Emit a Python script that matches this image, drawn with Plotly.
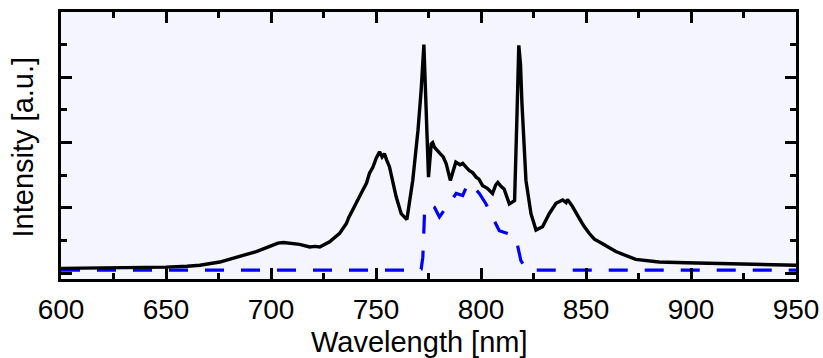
import plotly.graph_objects as go

# Emission spectrum (black) and filtered band (blue dashed), arbitrary units
wl_spectrum = [600, 620, 640, 650, 660, 666.1, 675.6, 685.1, 693, 699.4, 703.3, 706, 708.9,
               713.6, 718.4, 721, 723.2, 727.9, 732.7, 735.9, 737, 739, 741, 743.7, 745.5,
               746.9, 748.5, 750.1, 751.7, 752.9, 754, 755, 756.4, 759.6, 762, 764.7, 767.5,
               770, 771.5, 772.8, 773.5, 774.3, 775, 776.3, 777, 777.8, 779, 780, 782,
               783.4, 785.4, 786.5, 788, 790, 791.3, 793, 794.5, 796, 797.7, 799, 800.8,
               803, 805.5, 807, 808, 809.5, 811, 813.5, 816, 817.2, 818, 818.8, 819.5,
               821.4, 823.8, 826.2, 829.3, 832.5, 835.7, 838.9, 840.5, 841.2, 842.1,
               843.6, 846.8, 849, 851.5, 854, 857.9, 864.2, 873.7, 884.8, 897.5, 913.3,
               930, 950]
intensity_spectrum = [0.072, 0.075, 0.085, 0.092, 0.105, 0.12, 0.17, 0.25, 0.33, 0.41, 0.46,
                      0.47, 0.46, 0.44, 0.40, 0.41, 0.40, 0.48, 0.61, 0.76, 0.85, 0.99, 1.10,
                      1.27, 1.38, 1.53, 1.62, 1.76, 1.86, 1.78, 1.83, 1.74, 1.63, 1.17, 0.91,
                      0.82, 1.42, 2.19, 2.8, 3.50, 2.9, 2.1, 1.47, 1.98, 2.0, 1.93, 1.88, 1.85,
                      1.78, 1.68, 1.42, 1.55, 1.70, 1.66, 1.68, 1.62, 1.57, 1.54, 1.47, 1.44,
                      1.34, 1.30, 1.22, 1.35, 1.39, 1.33, 1.29, 1.06, 1.11, 2.5, 3.49, 3.2,
                      2.6, 1.42, 0.91, 0.66, 0.71, 0.91, 1.07, 1.12, 1.08, 1.13, 1.09, 1.02,
                      0.84, 0.72, 0.61, 0.52, 0.45, 0.33, 0.21, 0.17, 0.16, 0.15, 0.135, 0.12]

wl_filtered = [600, 770, 771.5, 772.3, 773.1, 775.5, 777.8, 780.2, 784.2, 788.2, 791.3,
               793.7, 796, 799.2, 802.4, 806.4, 808.7, 813.5, 816.7, 819, 821.4, 823, 950]
intensity_filtered = [0.045, 0.045, 0.06, 0.245, 0.91, 1.06, 1.01, 0.86, 1.04, 1.22, 1.19,
                      1.37, 1.34, 1.22, 1.06, 0.81, 0.65, 0.60, 0.53, 0.19, 0.07, 0.045, 0.045]

x_ticks = [600, 650, 700, 750, 800, 850, 900, 950]
y_ticks = [0, 1, 2, 3, 4]

FONT = "Liberation Sans, Arial, sans-serif"

fig = go.Figure()
fig.add_trace(go.Scatter(x=wl_filtered, y=intensity_filtered, mode="lines",
                         line=dict(color="#0000ff", width=3.2, dash="19px,17px"),
                         showlegend=False))
fig.add_trace(go.Scatter(x=wl_spectrum, y=intensity_spectrum, mode="lines",
                         line=dict(color="black", width=3.4),
                         showlegend=False))

axis_common = dict(showline=True, linecolor="black", linewidth=3, mirror="allticks",
                   ticks="inside", tickcolor="black", tickwidth=2.5, ticklen=11,
                   showgrid=False, zeroline=False, automargin=False)

fig.update_xaxes(range=[600, 950], tickvals=x_ticks, ticktext=[str(v) for v in x_ticks],
                 tickfont=dict(family=FONT, size=28, color="black"),
                 ticklabelstandoff=3,
                 minor=dict(dtick=25, tick0=600, ticks="inside", ticklen=6,
                            tickwidth=2.5, tickcolor="black", showgrid=False),
                 **axis_common)
fig.update_yaxes(range=[-0.09, 4.0], tickvals=y_ticks, showticklabels=False,
                 minor=dict(dtick=0.5, tick0=0, ticks="inside", ticklen=6,
                            tickwidth=2.5, tickcolor="black", showgrid=False),
                 **axis_common)

fig.add_annotation(text="Wavelength [nm]", xref="paper", yref="paper", x=0.488, y=-0.236,
                   xanchor="center", yanchor="middle", showarrow=False,
                   font=dict(family=FONT, size=29, color="black"))
fig.add_annotation(text="Intensity [a.u.]", xref="paper", yref="paper", x=-0.0516, y=0.493,
                   xanchor="center", yanchor="middle", showarrow=False, textangle=-90,
                   font=dict(family=FONT, size=29, color="black"))

fig.update_layout(width=823, height=358,
                  margin=dict(l=61, r=27, t=12, b=79),
                  plot_bgcolor="#f5f5ff", paper_bgcolor="white")

fig.write_html("out.html")
